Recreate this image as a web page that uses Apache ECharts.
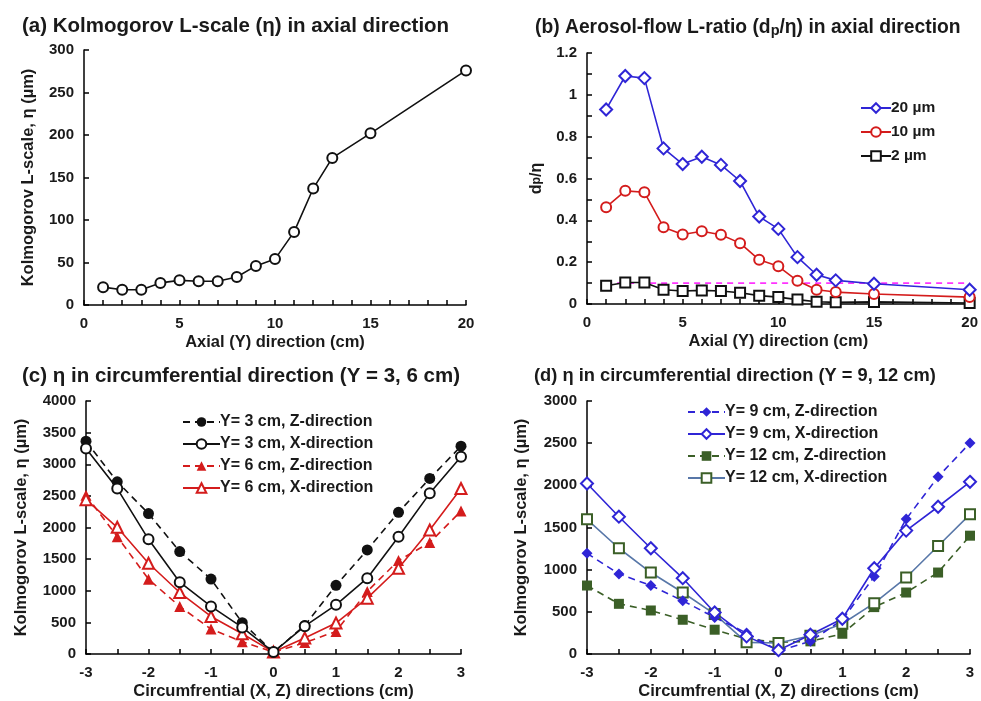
<!DOCTYPE html>
<html><head><meta charset="utf-8">
<script src="https://cdn.jsdelivr.net/npm/echarts@6/dist/echarts.min.js"></script>
<style>html,body{margin:0;padding:0;background:#fff}#c{width:981px;height:701px}</style>
</head><body><div id="c"></div>
<script>
// ---- Data ----
const axialY = [1,2,3,4,5,6,7,8,9,10,11,12,13,15,20];
const etaAxial = [21,18,18,26,29,28,28,33,46,54,86,137,173,202,276];
const ratio20 = [0.93,1.09,1.08,0.744,0.669,0.704,0.665,0.588,0.418,0.359,0.224,0.14,0.113,0.097,0.068];
const ratio10 = [0.463,0.541,0.534,0.367,0.332,0.348,0.331,0.291,0.211,0.18,0.111,0.068,0.057,0.048,0.033];
const ratio2  = [0.087,0.103,0.103,0.068,0.062,0.065,0.062,0.054,0.04,0.033,0.021,0.011,0.008,0.01,0.005];
const thresholdX = [1,20];
const thresholdY = [0.1,0.1];
const circ = [-3,-2.5,-2,-1.5,-1,-0.5,0,0.5,1,1.5,2,2.5,3];
const y3Z = [3365,2723,2220,1620,1185,495,30,450,1085,1645,2240,2775,3285];
const y3X = [3250,2615,1813,1135,752,420,30,440,778,1198,1855,2540,3117];
const y6Z = [2510,1855,1183,752,394,195,30,180,357,990,1477,1761,2260];
const y6X = [2440,2003,1435,972,594,320,30,252,489,883,1356,1960,2617];
const y9Z = [1194,950,812,631,434,248,39,150,406,918,1600,2101,2503];
const y9X = [2022,1628,1254,899,493,209,45,229,418,1017,1463,1746,2042];
const y12Z = [812,595,516,406,288,177,138,150,240,556,729,966,1403];
const y12X = [1597,1254,966,729,473,138,130,217,359,603,907,1281,1656];

const titles = ['(a) Kolmogorov L-scale (η) in axial direction',
  '{a|(b) Aerosol-flow L-ratio (d}{s|p}{a|/η) in axial direction}',
  '(c) η in circumferential direction (Y = 3, 6 cm)',
  '(d) η in circumferential direction (Y = 9, 12 cm)'];
const axialName = 'Axial (Y) direction (cm)';
const circName = 'Circumfrential (X, Z) directions (cm)';
const etaName = 'Kolmogorov L-scale, η (µm)';

// ---- Styles ----
const FF = '"Liberation Sans", Arial, sans-serif';
const BLUE = '#2f25d6', RED = '#d41c1c', GREEN = '#3b5f27', SLATE = '#5877a8';
const lab = {fontFamily: FF, fontWeight: 'bold', fontSize: 15, color: '#1a1a1a', formatter: v => String(v)};
const nameSt = {fontFamily: FF, fontWeight: 'bold', fontSize: 16.5, color: '#1a1a1a'};
const legTxt = {fontFamily: FF, fontWeight: 'bold', fontSize: 16, color: '#1a1a1a', padding:[0,0,0,-5]};
const axisLine = {show: true, onZero: false, lineStyle: {color: '#000', width: 1.5}};
const tick = {show: true, inside: true, length: 5, lineStyle: {color: '#000', width: 1.5}};
const minor = n => ({show: true, splitNumber: n, length: 5, lineStyle: {color: '#000', width: 1.5}});
function zipXY(xs, ys){ return xs.map((x,i)=>[x, ys[i]]); }

function xAx(idx, min, max, interval, name, minorN){
  return {type:'value', gridIndex: idx, min, max, interval, name, nameLocation:'middle', nameGap: 29,
    nameTextStyle: nameSt, axisLine, axisTick: tick, minorTick: minor(minorN),
    axisLabel: Object.assign({margin: 11}, lab), splitLine: {show:false}, minorSplitLine:{show:false}};
}
function yAx(idx, min, max, interval, name, gap, minorN){
  const o = {type:'value', gridIndex: idx, min, max, interval, name, nameLocation:'middle', nameGap: gap,
    nameTextStyle: nameSt, axisLine, axisTick: tick,
    axisLabel: Object.assign({margin: 10}, lab), splitLine: {show:false}};
  if (minorN) o.minorTick = minor(minorN);
  return o;
}
function ser(name, xi, data, color, symbol, opts){
  return Object.assign({type:'line', name, xAxisIndex: xi, yAxisIndex: xi, data, symbol, symbolSize: 10,
    showSymbol: true, animation: false,
    lineStyle: {color, width: 1.6, type: 'solid'},
    itemStyle: {color, borderWidth: 1.5}}, opts || {});
}
const tStyle = fs => ({fontFamily: FF, fontWeight:'bold', fontSize: fs, color:'#1a1a1a'});

const option = {
  animation: false,
  backgroundColor: '#fff',
  title: [
    {text: titles[0], left: 17, top: 11, textStyle: tStyle(20.5)},
    {text: titles[1], left: 530, top: 12, textStyle: {rich: {
      a: tStyle(19.3),
      s: Object.assign(tStyle(14.5), {padding:[6,0,0,0]})}}},
    {text: titles[2], left: 17, top: 361, textStyle: tStyle(20.5)},
    {text: titles[3], left: 529, top: 362, textStyle: tStyle(18.3)}
  ],
  grid: [
    {left: 84, top: 50, width: 382, height: 255},
    {left: 587, top: 53, width: 386, height: 251},
    {left: 86, top: 401, width: 375, height: 253},
    {left: 587, top: 401, width: 383, height: 253}
  ],
  xAxis: [
    xAx(0, 0, 20, 5, axialName, 5),
    xAx(1, 0, 20, 5, axialName, 5),
    xAx(2, -3, 3, 1, circName, 2),
    xAx(3, -3, 3, 1, circName, 2)
  ],
  yAxis: [
    yAx(0, 0, 300, 50, etaName, 47),
    Object.assign(yAx(1, 0, 1.2, 0.2, '', 42, 2), {name: '{a|d}{s|p}{a|/η}', nameTextStyle: {rich: {
      a: tStyle(16),
      s: tStyle(12.5)}}}),
    yAx(2, 0, 4000, 500, etaName, 56),
    yAx(3, 0, 3000, 500, etaName, 57)
  ],
  legend: [
    {data: ['20 µm','10 µm','2 µm'], orient:'vertical', left: 855, top: 95, itemWidth: 30, itemHeight: 12, itemGap: 8,
      textStyle: Object.assign({}, legTxt, {fontSize: 15.5})},
    {data: ['Y= 3 cm, Z-direction','Y= 3 cm, X-direction','Y= 6 cm, Z-direction','Y= 6 cm, X-direction'],
      orient:'vertical', left: 177, top: 409, itemWidth: 37, itemHeight: 12, itemGap: 6,
      textStyle: legTxt},
    {data: ['Y= 9 cm, Z-direction','Y= 9 cm, X-direction','Y= 12 cm, Z-direction','Y= 12 cm, X-direction'],
      orient:'vertical', left: 682, top: 399, itemWidth: 37, itemHeight: 12, itemGap: 6,
      textStyle: legTxt}
  ],
  series: [
    ser('eta', 0, zipXY(axialY, etaAxial), '#111', 'emptyCircle', {symbolSize: 10}),
    ser('threshold', 1, zipXY(thresholdX, thresholdY), '#ff33ff', 'none', {lineStyle:{color:'#ff33ff', width:1.6, type:[6,5]}}),
    ser('2 µm', 1, zipXY(axialY, ratio2), '#111', 'emptyRect', {symbolSize: 10}),
    ser('10 µm', 1, zipXY(axialY, ratio10), RED, 'emptyCircle', {symbolSize: 10}),
    ser('20 µm', 1, zipXY(axialY, ratio20), BLUE, 'emptyDiamond', {symbolSize: 12}),
    ser('Y= 6 cm, Z-direction', 2, zipXY(circ, y6Z), RED, 'triangle', {symbolSize: 11, lineStyle:{color:RED, width:1.6, type:[7,5]}}),
    ser('Y= 6 cm, X-direction', 2, zipXY(circ, y6X), RED, 'emptyTriangle', {symbolSize: 11}),
    ser('Y= 3 cm, Z-direction', 2, zipXY(circ, y3Z), '#111', 'circle', {symbolSize: 11, lineStyle:{color:'#111', width:1.6, type:[7,5]}}),
    ser('Y= 3 cm, X-direction', 2, zipXY(circ, y3X), '#111', 'emptyCircle', {symbolSize: 10}),
    ser('Y= 12 cm, Z-direction', 3, zipXY(circ, y12Z), GREEN, 'rect', {symbolSize: 10, lineStyle:{color:GREEN, width:1.6, type:[7,5]}}),
    ser('Y= 12 cm, X-direction', 3, zipXY(circ, y12X), GREEN, 'emptyRect', {symbolSize: 10, lineStyle:{color:SLATE, width:1.6}}),
    ser('Y= 9 cm, Z-direction', 3, zipXY(circ, y9Z), BLUE, 'diamond', {symbolSize: 11, lineStyle:{color:BLUE, width:1.6, type:[7,5]}}),
    ser('Y= 9 cm, X-direction', 3, zipXY(circ, y9X), BLUE, 'emptyDiamond', {symbolSize: 12})
  ]
};
const chart = echarts.init(document.getElementById('c'), null, {renderer:'canvas'});
chart.setOption(option);
</script></body></html>
